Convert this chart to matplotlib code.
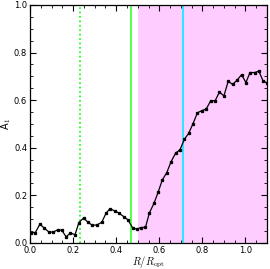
import numpy as np
import matplotlib
matplotlib.use('Agg')
import matplotlib.pyplot as plt
from matplotlib.ticker import MultipleLocator

plt.rcParams['mathtext.fontset'] = 'cm'

# radius in units of R_opt
r = [0.005, 0.025, 0.046, 0.066, 0.088, 0.108, 0.128, 0.147, 0.168, 0.188,
     0.209, 0.227, 0.249, 0.269, 0.290, 0.311, 0.333, 0.353, 0.371, 0.395,
     0.414, 0.436, 0.455, 0.476, 0.495, 0.515, 0.536, 0.554, 0.576, 0.595,
     0.614, 0.635, 0.654, 0.676, 0.696, 0.716, 0.736, 0.756, 0.777, 0.798,
     0.818, 0.839, 0.859, 0.879, 0.900, 0.920, 0.940, 0.961, 0.982, 1.002,
     1.021, 1.043, 1.062, 1.081, 1.100]
# A1 amplitude
a1 = [0.043, 0.044, 0.079, 0.063, 0.046, 0.046, 0.055, 0.054, 0.026, 0.042,
      0.035, 0.086, 0.105, 0.087, 0.074, 0.076, 0.087, 0.125, 0.144, 0.134,
      0.125, 0.110, 0.097, 0.064, 0.058, 0.065, 0.066, 0.126, 0.168, 0.214,
      0.265, 0.296, 0.340, 0.378, 0.391, 0.435, 0.460, 0.500, 0.547, 0.556,
      0.563, 0.598, 0.597, 0.634, 0.618, 0.680, 0.666, 0.684, 0.707, 0.674,
      0.716, 0.716, 0.722, 0.682, 0.672]

r_dotted = 0.233
r_green = 0.469
r_cyan = 0.711
shade = (0.5, 1.1)

fig = plt.figure(figsize=(2.70, 2.69), dpi=100)
ax = fig.add_axes([0.111, 0.0967, 0.878, 0.885])

ax.axvspan(shade[0], shade[1], color='#ffccff', lw=0, zorder=0)
ax.axvline(r_dotted, color='#00ff00', ls=':', lw=1.2)
ax.axvline(r_green, color='#33ff33', ls='-', lw=1.2)
ax.axvline(r_cyan, color='#33e6ff', ls='-', lw=1.5)

ax.plot(r, a1, color='black', lw=0.9, marker='s', ms=1.4, zorder=3)

ax.set_xlim(0, 1.1)
ax.set_ylim(0, 1.0)
ax.xaxis.set_major_locator(MultipleLocator(0.2))
ax.xaxis.set_minor_locator(MultipleLocator(0.05))
ax.yaxis.set_major_locator(MultipleLocator(0.2))
ax.yaxis.set_minor_locator(MultipleLocator(0.05))
ax.tick_params(which='both', direction='in', top=True, right=True, labelsize=6, pad=2)
ax.tick_params(which='major', length=4, width=0.8)
ax.tick_params(which='minor', length=2, width=0.6)
for s in ax.spines.values():
    s.set_linewidth(0.9)

ax.set_xlabel(r'$R/R_{\rm opt}$', fontsize=7.5, labelpad=-0.5)
ax.set_ylabel(r'A$_1$', fontsize=7, labelpad=1)

fig.savefig('out.png', dpi=100)
